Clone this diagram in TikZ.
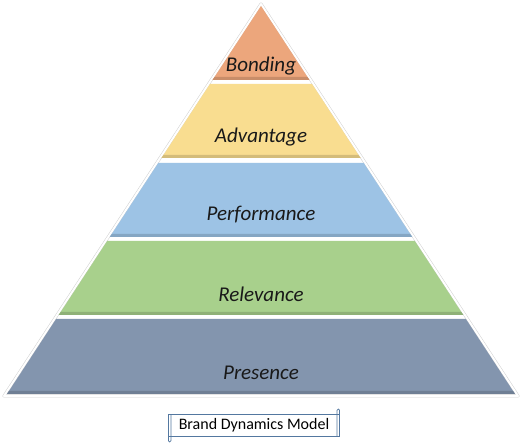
\documentclass[tikz,border=0pt]{standalone}
\usepackage{fontspec}
\setmainfont{Carlito}
\usetikzlibrary{positioning,calc}

\definecolor{bondingc}{RGB}{236,166,124}
\definecolor{advantagec}{RGB}{249,221,144}
\definecolor{performancec}{RGB}{157,195,229}
\definecolor{relevancec}{RGB}{168,208,140}
\definecolor{presencec}{RGB}{131,149,174}
\definecolor{scrollc}{RGB}{84,120,160}

\begin{document}
\begin{tikzpicture}[
  x=1pt, y=-1pt,
  declare function = {hw(\t)=(\t-6)*0.6546;},
  layerlabel/.style = {font=\fontsize{21}{24}\selectfont\itshape, text=black!90, inner sep=0pt},
  scrollbox/.style  = {draw=scrollc, line width=0.7pt, fill=white,
                       font=\fontsize{16}{18}\selectfont, inner xsep=10pt, inner ysep=4pt},
]
% canvas
\fill[white] (0,0) rectangle (520,446);
\useasboundingbox (0,0) rectangle (520,446);

% soft outline of the whole pyramid
\draw[black!18, line width=3pt, line join=round] (261,4) -- (4,396) -- (518,396) -- cycle;
\draw[white, line width=2pt, line join=round] (261,4) -- (4,396) -- (518,396) -- cycle;

% bands: top / bottom / name / colour
\foreach \top/\bot/\name/\col in {6/80/bonding/bondingc, 84/158/advantage/advantagec,
    163/237/performance/performancec, 241/315/relevance/relevancec,
    319/394/presence/presencec}{
  \fill[\col] ({261-hw(\top)},\top) -- ({261+hw(\top)},\top)
              -- ({261+hw(\bot)},\bot) -- ({261-hw(\bot)},\bot) -- cycle;
  \fill[\col!85!black] ({261-hw(\bot-3)},\bot-3) -- ({261+hw(\bot-3)},\bot-3)
              -- ({261+hw(\bot)},\bot) -- ({261-hw(\bot)},\bot) -- cycle;
}

% labels
\node[layerlabel] (bonding)     at (261,66)  {Bonding};
\node[layerlabel] (advantage)   at (261,137) {Advantage};
\node[layerlabel] (performance) at (261,215) {Performance};
\node[layerlabel] (relevance)   at (261,294) {Relevance};
\node[layerlabel] (presence)    at (261,373) {Presence};

% caption scroll
\node[scrollbox] (caption) at (254,425.5) {Brand Dynamics Model};
\draw[scrollc, line width=0.7pt] ([xshift=2.5pt]caption.north west) -- ([xshift=2.5pt,yshift=-4pt]caption.south west)
  arc[start angle=0, end angle=-180, radius=1.25pt] -- ([xshift=0pt]caption.south west);
\draw[scrollc, line width=0.7pt] ([xshift=-2.5pt]caption.south east) -- ([xshift=-2.5pt,yshift=4pt]caption.north east)
  arc[start angle=180, end angle=0, radius=1.25pt] -- (caption.north east);
\end{tikzpicture}
\end{document}
